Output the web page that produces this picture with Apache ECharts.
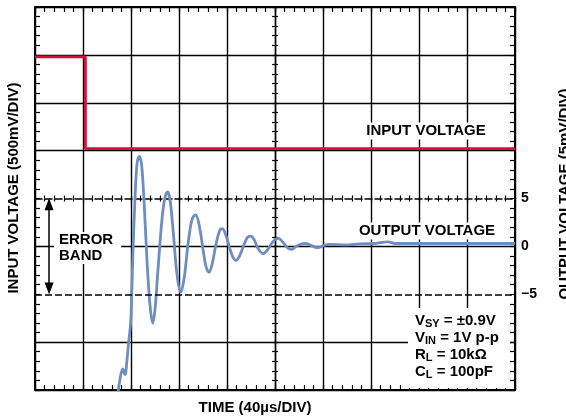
<!DOCTYPE html>
<html>
<head>
<meta charset="utf-8">
<script src="https://cdn.jsdelivr.net/npm/echarts@6/dist/echarts.min.js"></script>
<style>html,body{margin:0;padding:0;background:#fff;}#c{width:566px;height:419px;}</style>
</head>
<body>
<div id="c"></div>
<script>
// ---- data (time in µs, output in mV, input in V) ----
const inputTime = [0, 42, 42, 400];
const inputVolt = [3.48, 3.48, 2.52, 2.52];
const outTime = [68.5, 70.8, 73.1, 75, 76.7, 77.75, 79.75, 80.6, 81.7, 83.3, 85, 86.9, 88.75, 90.8, 93.3, 95.8, 98.1, 100, 102.5, 105.8, 108.3, 110.6, 112.5, 115, 118.3, 121.4, 124.2, 127.5, 130.8, 133.9, 136.7, 140, 142.5, 145, 147.5, 150.8, 153.75, 156.1, 159.2, 162.5, 165, 167.5, 170.8, 174.2, 177.1, 179.75, 182.5, 185.8, 190.25, 194.2, 198.3, 202.75, 206.7, 210, 213.9, 217.5, 220.8, 225, 230.8, 235.8, 240.8, 245.8, 258.3, 270.8, 283.3, 294, 300, 320.8, 354, 400];
const outMv = [-16, -13.9, -12.8, -13.4, -11.8, -10.4, -7.9, -5.0, -0.3, 4.9, 8.6, 9.4, 8.6, 4.9, -1.4, -6.1, -8.0, -6.6, -2.4, 2.8, 5.1, 5.7, 4.9, 1.8, -2.9, -4.8, -3.4, 0.2, 2.8, 3.3, 2.3, -0.3, -2.1, -2.7, -1.9, 0.2, 1.6, 1.85, 1.1, -0.3, -1.15, -1.46, -0.9, 0.2, 0.94, 1.08, 0.73, -0.2, -0.76, -0.3, 0.5, 0.84, 0.42, -0.1, -0.3, 0, 0.2, 0.3, 0.05, -0.14, 0.1, 0.2, 0.15, 0.26, 0.3, 0.47, 0.3, 0.3, 0.3, 0.3];
const outTickValues = [5, 0, -5];
const outTickLabels = ['5', '0', '\u22125'];
const errorBand = [5, -5];

const FONT = "'Liberation Sans', Arial, sans-serif";
const BLACK = '#000';

function tick(inside, len) {
  return { show: true, inside: inside, length: len, lineStyle: { color: BLACK, width: 1.2 } };
}
function minor(len) {
  return { show: true, splitNumber: 5, length: len, lineStyle: { color: BLACK, width: 1.2 } };
}
function xAx(extra) {
  return Object.assign({
    type: 'value', min: 0, max: 400, interval: 40,
    axisLine: { show: true, onZero: false, lineStyle: { color: BLACK, width: 2 } },
    axisTick: tick(true, 5),
    axisLabel: { show: false },
    splitLine: { show: false },
    minorTick: minor(5)
  }, extra);
}
function yAx(extra) {
  return Object.assign({
    type: 'value', min: 0, max: 4, interval: 0.5,
    axisLine: { show: true, onZero: false, lineStyle: { color: BLACK, width: 2 } },
    axisTick: tick(true, 5),
    axisLabel: { show: false },
    splitLine: { show: false },
    minorTick: minor(5)
  }, extra);
}

const chart = echarts.init(document.getElementById('c'), null, { renderer: 'canvas' });
const option = {
  animation: false,
  backgroundColor: '#fff',
  grid: { left: 35, top: 7, width: 480, height: 383, containLabel: false },
  xAxis: [
    xAx({ position: 'bottom', splitLine: { show: true, lineStyle: { color: BLACK, width: 1.4 } } }),
    xAx({ position: 'top' }),
    xAx({ position: 'bottom', offset: -191.5,
          axisLine: { show: true, onZero: false, lineStyle: { color: BLACK, width: 1.6, type: [7, 3] } },
          axisTick: tick(true, 3), minorTick: minor(3) }),
    xAx({ position: 'bottom', offset: -191.5,
          axisLine: { show: false, onZero: false },
          axisTick: tick(false, 3), minorTick: minor(3) })
  ],
  yAxis: [
    yAx({ position: 'left',
          splitLine: { show: true, lineStyle: { width: 1.4,
            color: [BLACK, BLACK, 'rgba(0,0,0,0)', BLACK, 'rgba(0,0,0,0)', BLACK, BLACK, BLACK, BLACK] } } }),
    yAx({ position: 'right', min: -15, max: 25, interval: 5,
          axisLabel: { show: true, margin: 6, color: BLACK, fontFamily: FONT, fontWeight: 'bold', fontSize: 14,
            formatter: function (v) { const i = outTickValues.indexOf(v); return i >= 0 ? outTickLabels[i] : ''; } } }),
    yAx({ position: 'left', offset: -240,
          axisLine: { show: true, onZero: false, lineStyle: { color: BLACK, width: 1.4 } },
          axisTick: tick(true, 3), minorTick: minor(3) }),
    yAx({ position: 'left', offset: -240,
          axisLine: { show: false, onZero: false },
          axisTick: tick(false, 3), minorTick: minor(3) })
  ],
  series: [
    {
      name: 'Input', type: 'line', xAxisIndex: 0, yAxisIndex: 0,
      data: inputTime.map((t, i) => [t, inputVolt[i]]),
      showSymbol: false, symbol: 'none',
      lineStyle: { color: '#d40f3c', width: 2.8 }, z: 3
    },
    {
      name: 'Output', type: 'line', xAxisIndex: 0, yAxisIndex: 1,
      data: outTime.map((t, i) => [t, outMv[i]]),
      showSymbol: false, symbol: 'none', smooth: 0.35,
      lineStyle: { color: '#6e8dc0', width: 2.8 }, z: 4,
      markLine: {
        silent: true, animation: false,
        label: { show: false },
        symbol: ['none', 'none'],
        data: [
          { yAxis: errorBand[1], lineStyle: { color: BLACK, width: 1.6, type: [7, 3] } },
          [
            { coord: [11.7, errorBand[0] - 0.6], symbol: 'triangle', symbolSize: [9, 12],
              lineStyle: { color: BLACK, width: 1.5, type: 'solid' } },
            { coord: [11.7, errorBand[1] + 0.6], symbol: 'triangle', symbolSize: [9, 12] }
          ]
        ]
      }
    }
  ],
  graphic: [
    { type: 'text', z: 10, x: 426, y: 131, style: { text: 'INPUT VOLTAGE', fill: BLACK, font: "bold 15px " + FONT,
        textAlign: 'center', textVerticalAlign: 'middle', backgroundColor: '#fff', padding: [1, 2, 1, 2] } },
    { type: 'text', z: 10, x: 427, y: 231, style: { text: 'OUTPUT VOLTAGE', fill: BLACK, font: "bold 15px " + FONT,
        textAlign: 'center', textVerticalAlign: 'middle', backgroundColor: '#fff', padding: [1, 2, 1, 2] } },
    { type: 'text', z: 10, x: 54, y: 232, style: { text: 'ERROR\nBAND', fill: BLACK, font: "bold 15px " + FONT,
        lineHeight: 16, textAlign: 'left', textVerticalAlign: 'top', backgroundColor: '#fff', padding: [0, 8, 0, 5] } },
    { type: 'rect', z: 9, shape: { x: 408, y: 308, width: 102, height: 80 }, style: { fill: '#fff' } },
    { type: 'text', z: 10, x: 415, y: 312, style: {
        text: '{m|V}{s|SY}{m| = \u00b10.9V}\n{m|V}{s|IN}{m| = 1V p-p}\n{m|R}{s|L}{m| = 10k\u03a9}\n{m|C}{s|L}{m| = 100pF}',
        fill: BLACK, textAlign: 'left', textVerticalAlign: 'top',
        rich: {
          m: { fontFamily: FONT, fontWeight: 'bold', fontSize: 15, lineHeight: 17, fill: BLACK, verticalAlign: 'middle' },
          s: { fontFamily: FONT, fontWeight: 'bold', fontSize: 11, lineHeight: 8, fill: BLACK, verticalAlign: 'bottom' }
        } } },
    { type: 'text', z: 10, x: 255, y: 408, style: { text: 'TIME (40\u00b5s/DIV)', fill: BLACK, font: "bold 15px " + FONT,
        textAlign: 'center', textVerticalAlign: 'middle' } },
    { type: 'text', z: 10, x: 14, y: 188, rotation: Math.PI / 2, style: { text: 'INPUT VOLTAGE (500mV/DIV)', fill: BLACK,
        font: "bold 15px " + FONT, textAlign: 'center', textVerticalAlign: 'middle' } },
    { type: 'text', z: 10, x: 565, y: 194, rotation: Math.PI / 2, style: { text: 'OUTPUT VOLTAGE (5mV/DIV)', fill: BLACK,
        font: "bold 15px " + FONT, textAlign: 'center', textVerticalAlign: 'middle' } }
  ]
};
chart.setOption(option);
</script>
</body>
</html>
